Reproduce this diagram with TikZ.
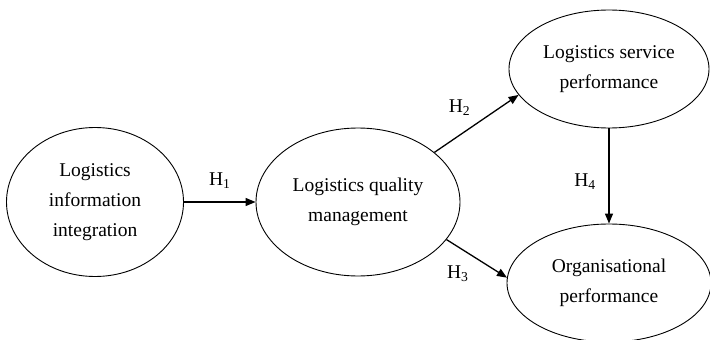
\documentclass[tikz,border=0pt]{standalone}
\usepackage{fontspec}
\setmainfont{Liberation Serif}
\usetikzlibrary{shapes.geometric,arrows.meta}
\begin{document}
\begin{tikzpicture}[x=1pt,y=-1pt]
        % Define styles for shapes
        \tikzset{
            construct/.style={draw, ellipse, line width=0.9pt, inner sep=0pt, align=center,
                font=\fontsize{19.5}{30}\selectfont},
            path/.style={line width=1.3pt, -{Triangle[length=10pt,width=8pt]}},
            hyp/.style={font=\fontsize{19.5}{24}\selectfont, inner sep=0pt}
        }
        \useasboundingbox (0,0) rectangle (710,340);
        % Draw the constructs
        \node[construct, minimum width=177pt, minimum height=149pt] (integration) at (95,202) {
                Logistics\\information\\integration
        };
        \node[construct, minimum width=204pt, minimum height=148pt] (quality) at (358,202) {
                Logistics quality\\management
        };
        \node[construct, minimum width=200pt, minimum height=118pt] (service) at (609,69) {
                Logistics service\\performance
        };
        % Organisational node at the bottom right
        \node[construct, minimum width=204pt, minimum height=118pt] (organisation) at (609,283) {
                Organisational\\performance
        };
        % Draw arrows
        \draw[path] (integration.east) -- (quality.west) node[hyp, midway, yshift=21pt] {H\textsubscript{1}};
        \draw[path] (quality.33) -- (service.196) node[hyp, midway, xshift=-17pt, yshift=16pt] {H\textsubscript{2}};
        \draw[path] (quality.337) -- (organisation.177) node[hyp, midway, xshift=-19pt, yshift=-15pt] {H\textsubscript{3}};
        \draw[path] (service.south) -- (organisation.north) node[hyp, midway, xshift=-24pt, yshift=-6pt] {H\textsubscript{4}};
    \end{tikzpicture}
\end{document}
